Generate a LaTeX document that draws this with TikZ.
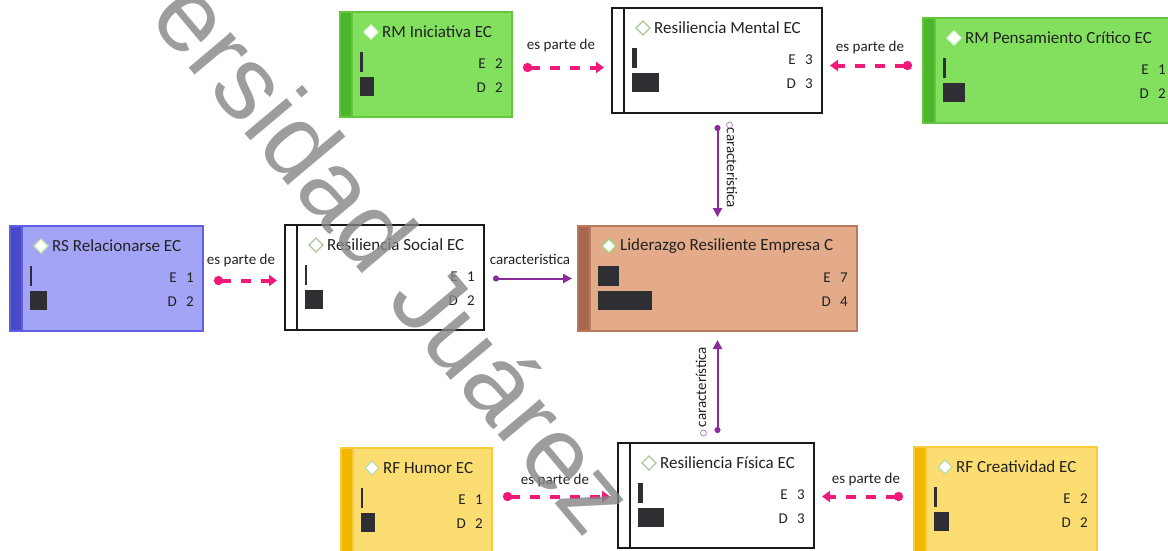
\documentclass[tikz,border=0pt]{standalone}
\usepackage{fontspec}
\setmainfont{Carlito}
\newfontfamily\wmfont{Liberation Sans}
\usetikzlibrary{arrows.meta}

% palettes: fill, left strip, outline, icon outline
\definecolor{grnfill}{HTML}{83E05F}\definecolor{grnstrip}{HTML}{4BB52B}\definecolor{grnline}{HTML}{62C73E}\definecolor{grndia}{HTML}{E8F5E0}
\definecolor{blufill}{HTML}{A4A4F7}\definecolor{blustrip}{HTML}{4A4AC9}\definecolor{bluline}{HTML}{5F5FE0}\definecolor{bludia}{HTML}{C8E6A8}
\definecolor{tanfill}{HTML}{E3AB8A}\definecolor{tanstrip}{HTML}{A8674D}\definecolor{tanline}{HTML}{B87A5E}\definecolor{tandia}{HTML}{9ED67E}
\definecolor{yelfill}{HTML}{FBDD72}\definecolor{yelstrip}{HTML}{F3B700}\definecolor{yelline}{HTML}{F7CB3A}\definecolor{yeldia}{HTML}{B8DCA0}
\definecolor{whtfill}{HTML}{FFFFFF}\definecolor{whtstrip}{HTML}{FFFFFF}\definecolor{whtline}{HTML}{1A1A1A}\definecolor{whtdia}{HTML}{A9C79A}
\definecolor{barcol}{HTML}{2E2E33}
\definecolor{txtcol}{HTML}{222222}
\definecolor{partlink}{HTML}{F0197A}
\definecolor{charlink}{HTML}{8A2B9C}
\definecolor{wmgray}{HTML}{858585}

\tikzset{
  x=1pt, y=-1pt,
  titletext/.style={anchor=west, inner sep=0pt, text=txtcol, font=\fontsize{17}{20}\selectfont},
  edtext/.style={inner sep=0pt, text=txtcol, font=\fontsize{15}{18}\selectfont},
  linklabel/.style={inner sep=0pt, text=txtcol, font=\fontsize{15}{18}\selectfont},
  partof/.style={draw=partlink, line width=4pt, dash pattern=on 10pt off 10pt,
    {Circle[length=9pt,width=9pt]}-{Triangle[length=8pt,width=11pt]},
    shorten <=11pt, shorten >=8pt},
  charof/.style={draw=charlink, line width=2pt,
    {Circle[length=6pt,width=6pt]}-{Triangle[length=9pt,width=9pt]}},
  handle/.style={draw=charlink!60, line width=0.8pt, fill=white},
}

\def\boxh{105}
\def\splitbars#1/#2\relax{\def\ebw{#1}\def\dbw{#2}}

% #1 name, #2 palette, #3 x, #4 y, #5 width, #6 title, #7 E, #8 D, #9 bar widths E/D
\newcommand\conceptnode[9]{%
  \splitbars#9\relax
  \node[draw=#2line, fill=#2fill, line width=1.2pt, minimum width=#5pt,
        minimum height=\boxh pt, anchor=north west, inner sep=0pt, outer sep=0pt]
        (#1) at (#3,#4) {};
  \fill[#2strip] ([shift={(0.6pt,-0.6pt)}]#1.north west) rectangle ([xshift=12pt,yshift=0.6pt]#1.south west);
  \draw[#2line, line width=1.2pt] ([xshift=12pt]#1.north west) -- ([xshift=12pt]#1.south west);
  \path ([shift={(31pt,-20pt)}]#1.north west) coordinate (#1-ic);
  \draw[#2dia, fill=white, line width=1.3pt]
     (#1-ic) ++(0pt,7pt) -- ++(7pt,-7pt) -- ++(-7pt,-7pt) -- ++(-7pt,7pt) -- cycle;
  \node[titletext] (#1-t) at ([shift={(42pt,-20pt)}]#1.north west) {#6};
  \fill[barcol] ([shift={(20pt,-40pt)}]#1.north west) rectangle ++(\ebw pt,-20pt);
  \fill[barcol] ([shift={(20pt,-65pt)}]#1.north west) rectangle ++(\dbw pt,-19pt);
  \node[edtext, anchor=east] (#1-el) at ([shift={(-26pt,-52pt)}]#1.north east) {E};
  \node[edtext] (#1-ev) at ([shift={(-13pt,-52pt)}]#1.north east) {#7};
  \node[edtext, anchor=east] (#1-dl) at ([shift={(-26pt,-76pt)}]#1.north east) {D};
  \node[edtext] (#1-dv) at ([shift={(-13pt,-76pt)}]#1.north east) {#8};
}

\begin{document}
\begin{tikzpicture}
\useasboundingbox[fill=white] (0,0) rectangle (1168,550);

% concept boxes
\conceptnode{ini}{grn}{340}{12}{172}{RM Iniciativa EC}{2}{2}{3/14}
\conceptnode{men}{wht}{612}{8}{210}{Resiliencia Mental EC}{3}{3}{5/27}
\conceptnode{pen}{grn}{923}{18}{252}{RM Pensamiento Crítico EC}{1}{2}{3/22}
\conceptnode{rel}{blu}{10}{226}{193}{RS Relacionarse EC}{1}{2}{2/17}
\conceptnode{soc}{wht}{285}{225}{199}{Resiliencia Social EC}{1}{2}{2/18}
\conceptnode{lid}{tan}{578}{226}{279}{Liderazgo Resiliente Empresa C}{7}{4}{21/54}
\conceptnode{hum}{yel}{341}{448}{151}{RF Humor EC}{1}{2}{2/14}
\conceptnode{fis}{wht}{618}{443}{196}{Resiliencia Física EC}{3}{3}{5/26}
\conceptnode{cre}{yel}{914}{447}{183}{RF Creatividad EC}{2}{2}{3/15}

% "es parte de" links
\draw[partof] ([yshift=-3pt]ini.east) -- ([yshift=-3pt]ini.east -| men.west);
\node[linklabel] (l1) at (561,45) {es parte de};
\draw[partof] ([yshift=5pt]pen.west) -- ([yshift=5pt]pen.west -| men.east);
\node[linklabel] (l2) at (870,47) {es parte de};
\draw[partof] ([yshift=-2pt]rel.west -| rel.east) -- ([yshift=-2pt]rel.west -| soc.west);
\node[linklabel] (l3) at (241,260) {es parte de};
\draw[partof] ([yshift=-1pt]fis.west -| hum.east) -- ([yshift=-1pt]fis.west);
\node[linklabel] (l4) at (555,480) {es parte de};
\draw[partof] ([yshift=-1pt]fis.east -| cre.west) -- ([yshift=-1pt]fis.east);
\node[linklabel] (l5) at (866,479) {es parte de};

% "caracteristica" links
\draw[charof, shorten <=9pt, shorten >=6pt] (soc.east |- lid.west) -- (lid.west);
\node[linklabel] (l6) at (530,259) {caracteristica};
\draw[charof, shorten <=12pt, shorten >=9pt] (men.south -| lid.north) -- (lid.north);
\node[linklabel, rotate=-90] (l7) at (732,168) {caracteristica};
\draw[charof, shorten <=10pt, shorten >=9pt] (fis.north -| lid.south) -- (lid.south);
\node[linklabel, rotate=90] (l8) at (701,387) {característica};
\node[handle, circle, inner sep=0pt, minimum size=6pt] (h1) at ([shift={(12pt,-12pt)}]men.south -| lid.north) {};
\node[handle, circle, inner sep=0pt, minimum size=6pt] (h2) at ([shift={(-14pt,10pt)}]fis.north -| lid.south) {};

% watermark
\node[text=wmgray, opacity=0.8, rotate=-50, inner sep=0pt,
      font=\wmfont\fontsize{104}{104}\selectfont] (wm) at (396,255) {ersidad Juárez};
\end{tikzpicture}
\end{document}
